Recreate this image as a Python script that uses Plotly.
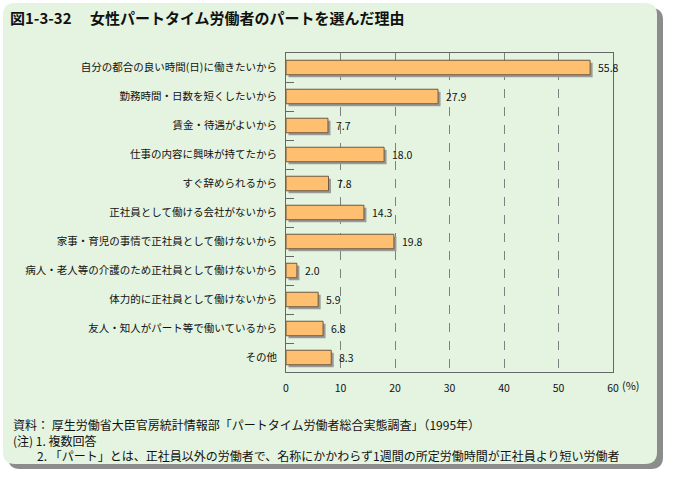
import plotly.graph_objects as go

categories = [
    "自分の都合の良い時間(日)に働きたいから",
    "勤務時間・日数を短くしたいから",
    "賃金・待遇がよいから",
    "仕事の内容に興味が持てたから",
    "すぐ辞められるから",
    "正社員として働ける会社がないから",
    "家事・育児の事情で正社員として働けないから",
    "病人・老人等の介護のため正社員として働けないから",
    "体力的に正社員として働けないから",
    "友人・知人がパート等で働いているから",
    "その他",
]
values = [55.8, 27.9, 7.7, 18.0, 7.8, 14.3, 19.8, 2.0, 5.9, 6.8, 8.3]
x_ticks = [0, 10, 20, 30, 40, 50, 60]

title = "図1-3-32　 女性パートタイム労働者のパートを選んだ理由"
notes = [
    "資料： 厚生労働省大臣官房統計情報部「パートタイム労働者総合実態調査」（1995年）",
    "(注) 1. 複数回答",
    "　　2. 「パート」とは、正社員以外の労働者で、名称にかかわらず1週間の所定労働時間が正社員より短い労働者",
]

FONT = "Noto Sans CJK JP"
W, H = 680, 489
ML, MR, MT, MB = 286, 67, 53, 117
PW, PH = W - ML - MR, H - MT - MB


def px(xp):
    return (xp - ML) / PW


def py(yp):
    return (H - MB - yp) / PH


def rounded(x0, y0, x1, y1, r):
    p = lambda a, b: f"{px(a):.5f},{py(b):.5f}"
    return (f"M {p(x0 + r, y0)} L {p(x1 - r, y0)} Q {p(x1, y0)} {p(x1, y0 + r)} "
            f"L {p(x1, y1 - r)} Q {p(x1, y1)} {p(x1 - r, y1)} L {p(x0 + r, y1)} "
            f"Q {p(x0, y1)} {p(x0, y1 - r)} L {p(x0, y0 + r)} Q {p(x0, y0)} {p(x0 + r, y0)} Z")


fig = go.Figure()

px_per_unit = PW / 60.0
shadow_dx = 2.5 / px_per_unit
shadow_dy = 2.5 / (PH / len(categories))

fig.add_trace(go.Bar(
    x=values, y=categories, orientation="h", base=shadow_dx,
    width=0.5, offset=-0.25 + shadow_dy,
    marker=dict(color="#9a9a9a", line=dict(width=0)),
    hoverinfo="skip", showlegend=False,
))
fig.add_trace(go.Bar(
    x=values, y=categories, orientation="h",
    width=0.5, offset=-0.25,
    marker=dict(color="#ffbf70", line=dict(color="#6e5a3c", width=1)),
    showlegend=False,
))

annotations = []
for v, c in zip(values, categories):
    annotations.append(dict(x=v, y=c, xref="x", yref="y", text=f"{v:.1f}",
                            xanchor="left", yanchor="middle", xshift=6, showarrow=False,
                            font=dict(family=FONT, size=10.5, color="#111")))

annotations.append(dict(x=60, y=py(385), xref="x", yref="paper", text="(%)",
                        xanchor="left", yanchor="middle", xshift=8, borderpad=0,
                        showarrow=False,
                        font=dict(family=FONT, size=11, color="#111")))
annotations.append(dict(x=px(8), y=py(18), xref="paper", yref="paper", text=title,
                        xanchor="left", yanchor="middle", showarrow=False,
                        font=dict(family=FONT, size=15, color="#111", weight="bold")))
annotations.append(dict(x=px(11), y=py(414), xref="paper", yref="paper",
                        text="<br>".join(notes), align="left",
                        xanchor="left", yanchor="top", showarrow=False,
                        font=dict(family=FONT, size=12, color="#111")))

shapes = [
    dict(type="path", path=rounded(8, 8, 663, 469, 12), xref="paper", yref="paper",
         fillcolor="#8c8c8c", line=dict(width=0), layer="below"),
    dict(type="path", path=rounded(3, 3, 657, 464, 12), xref="paper", yref="paper",
         fillcolor="#e4f4e0", line=dict(width=0), layer="below"),
]

fig.update_layout(
    width=W, height=H,
    margin=dict(l=ML, r=MR, t=MT, b=MB, pad=0),
    paper_bgcolor="white", plot_bgcolor="rgba(0,0,0,0)",
    barmode="overlay",
    font=dict(family=FONT, size=10.5, color="#111"),
    annotations=annotations, shapes=shapes,
    xaxis=dict(range=[0, 60], tickvals=x_ticks, ticktext=[str(t) for t in x_ticks],
               showgrid=True, gridcolor="#808080", griddash="dash", gridwidth=1,
               zeroline=False, showline=True, linecolor="#666", mirror=True,
               ticks="", ticklabelstandoff=6, tickfont=dict(size=10.5)),
    yaxis=dict(type="category", categoryorder="array", categoryarray=categories,
               range=[len(categories) - 0.5, -0.5], showgrid=False, zeroline=False,
               showline=True, linecolor="#666", mirror=True,
               ticks="inside", tickson="boundaries", ticklen=8, tickcolor="#666",
               ticklabelstandoff=6, tickfont=dict(size=10.5)),
)

fig.write_html("out.html", config={"displayModeBar": False},
               post_script="document.body.style.margin='0';")
